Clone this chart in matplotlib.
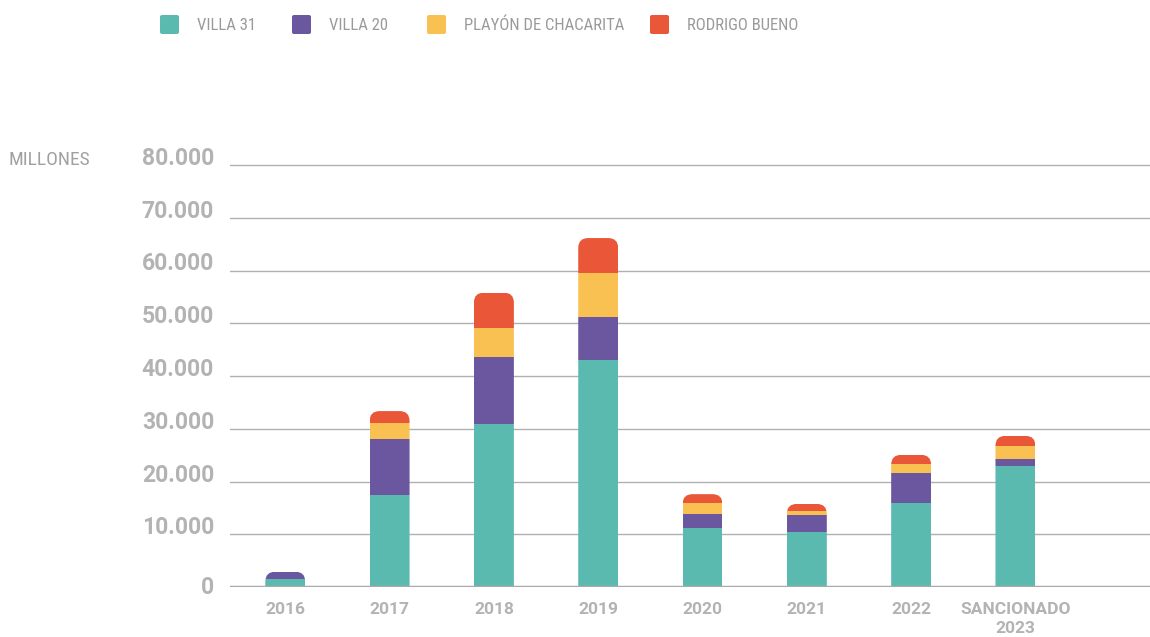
import matplotlib
matplotlib.use("Agg")
import matplotlib.pyplot as plt
from matplotlib import font_manager
from matplotlib.patches import FancyBboxPatch
import numpy as np

# datos (millones)
years = ["2016", "2017", "2018", "2019", "2020", "2021", "2022", "SANCIONADO\n2023"]
villa31 = [1500, 17400, 30900, 43000, 11100, 10400, 15900, 22900]
villa20 = [1400, 10650, 12750, 8150, 2650, 3200, 5800, 1350]
chacarita = [0, 3100, 5500, 8400, 2200, 900, 1600, 2550]
rodrigo = [0, 2200, 6650, 6600, 1650, 1250, 1750, 1850]
series_names = ["VILLA 31", "VILLA 20", "PLAYÓN DE CHACARITA", "RODRIGO BUENO"]
yticks = [0, 10000, 20000, 30000, 40000, 50000, 60000, 70000, 80000]

colors = ["#5bbab0", "#6b56a0", "#f9c152", "#ea5638"]
GREY = "#b3b3b3"


def pick(names):
    for n in names:
        try:
            font_manager.findfont(n, fallback_to_default=False)
            return n
        except Exception:
            pass
    return "DejaVu Sans"


NARROW = pick(["Roboto Condensed", "Liberation Sans Narrow", "DejaVu Sans Condensed", "Roboto"])
BOLD = pick(["Roboto", "DejaVu Sans"])

W, H = 1150, 637
fig = plt.figure(figsize=(W / 100, H / 100), dpi=100)

ymax = 84000
xlo, xhi = -0.53, 8.29
ax_left, ax_bottom = 230 / W, (H - 587) / H
ax_w, ax_h = 920 / W, ymax * (422 / 80000) / H
ax = fig.add_axes([ax_left, ax_bottom, ax_w, ax_h])
ax.set_xlim(xlo, xhi)
ax.set_ylim(0, ymax)

x = np.arange(len(years))
bw = 0.383
data = [villa31, villa20, chacarita, rodrigo]

# radio de las esquinas redondeadas
ypp = ymax / (ax_h * H)
xpp = (xhi - xlo) / (ax_w * W)
rad_px = 10
aspect = ypp / xpp

bottoms = np.zeros(len(years))
bars_all = []
for vals, c in zip(data, colors):
    b = ax.bar(x, vals, bw, bottom=bottoms, color=c, linewidth=0, zorder=3)
    bars_all.append(b)
    bottoms += np.array(vals)

for i, tot in enumerate(bottoms):
    clip = FancyBboxPatch((x[i] - bw / 2, -10000), bw, tot + 10000,
                          boxstyle=f"round,pad=0,rounding_size={rad_px * xpp}",
                          mutation_aspect=aspect, transform=ax.transData,
                          facecolor="none", edgecolor="none")
    for b in bars_all:
        b[i].set_clip_path(clip)

ax.set_yticks(yticks)
ax.set_yticklabels([f"{v:,}".replace(",", ".") for v in yticks])
ax.yaxis.grid(True, color="#b0b0b0", linewidth=1)
ax.set_axisbelow(True)
ax.axhline(0, color="#aaaaaa", linewidth=2.5, zorder=4)
for s in ax.spines.values():
    s.set_visible(False)
ax.tick_params(axis="y", length=0, pad=11.5, labelsize=16.5, labelcolor=GREY)
ax.tick_params(axis="x", length=0, pad=11, labelsize=12.5, labelcolor=GREY)
for t, v in zip(ax.get_yticklabels(), yticks):
    t.set_fontfamily(BOLD)
    t.set_fontweight("bold")
    t.set_verticalalignment("center" if v == 0 else "baseline")
ax.set_xticks(x)
ax.set_xticklabels(years, fontfamily=BOLD, fontweight="bold", linespacing=1.3)

fig.text(8 / W, 1 - 165 / H, "MILLONES", fontsize=14, color="#a0a0a0",
         fontfamily=NARROW, va="baseline", ha="left")

# leyenda
sq_x = [160, 292, 427, 650]
for sx, name, c in zip(sq_x, series_names, colors):
    sq = FancyBboxPatch((sx, H - 34), 19, 19, boxstyle="round,pad=0,rounding_size=2",
                        transform=None, facecolor=c, edgecolor="none")
    fig.add_artist(sq)
    fig.text((sx + 37) / W, 1 - 25 / H, name, fontsize=12, color="#9a9a9a",
             fontfamily=NARROW, va="center", ha="left")

fig.savefig("out.png", dpi=100)
